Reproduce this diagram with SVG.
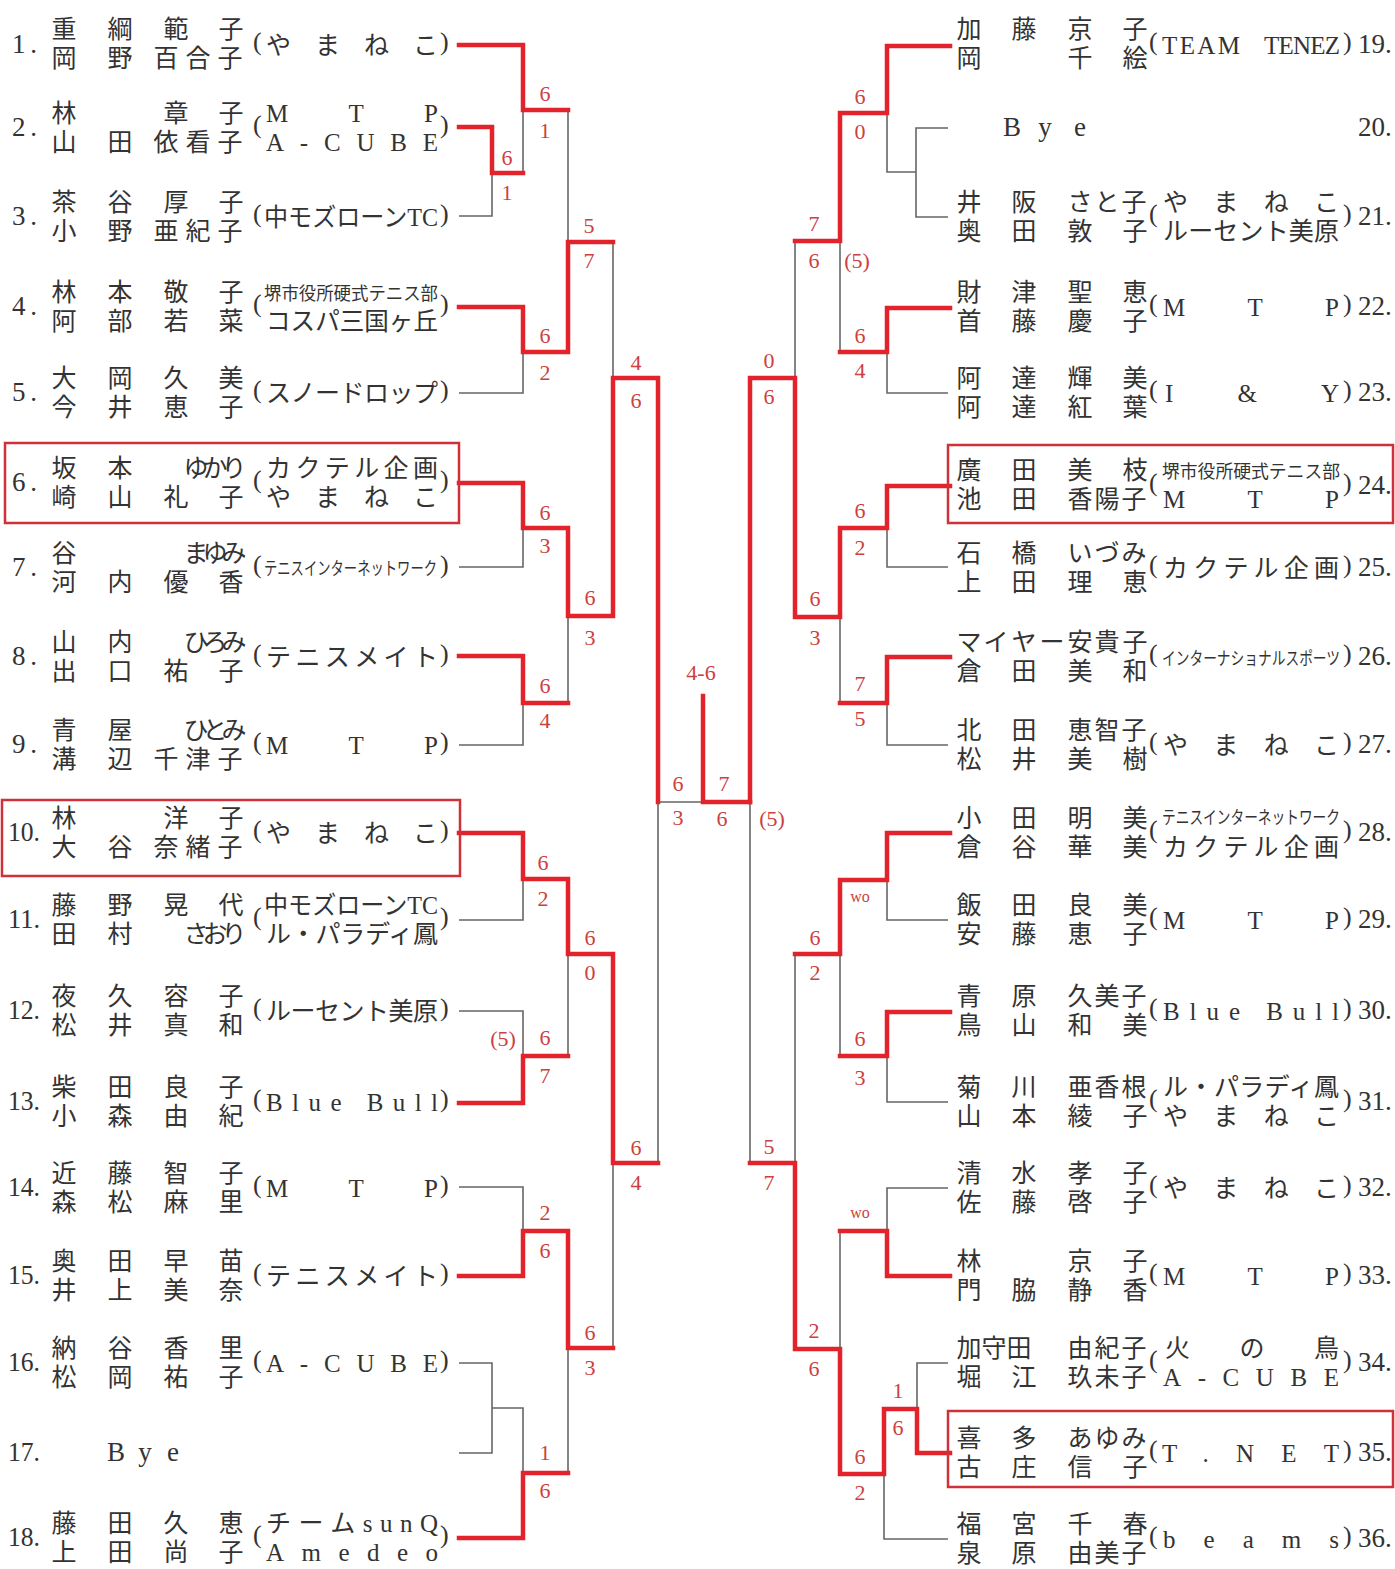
<svg xmlns="http://www.w3.org/2000/svg" width="1395" height="1569" viewBox="0 0 1395 1569">
<style>
.r{stroke:#e2232b;stroke-width:4.5;fill:none;stroke-linecap:square;stroke-linejoin:miter}
.g{stroke:#666;stroke-width:1.6;fill:none}
.box{fill:none;stroke:#d0303a;stroke-width:2.5}
.nm{font-family:"Noto Sans CJK JP",sans-serif;font-size:25px;fill:#333;text-anchor:middle}
.num{font-family:"Liberation Serif",serif;font-size:27px;fill:#333}
.tm{font-family:"Liberation Serif","Noto Sans CJK JP",serif;font-size:25px;fill:#333}
.ts{font-family:"Noto Sans CJK JP",sans-serif;font-size:18px;fill:#333}
.pa{font-family:"Liberation Serif",serif;font-size:26px;fill:#333}
.bye{font-family:"Liberation Serif",serif;font-size:27px;fill:#333;text-anchor:middle}
.sc{font-family:"Liberation Serif",serif;font-size:22px;fill:#cc4040;text-anchor:middle}
.wo{font-family:"Liberation Serif",serif;font-size:16px;fill:#cc4040;text-anchor:middle}
</style>
<rect width="1395" height="1569" fill="#fff"/>
<g id="connectors">
<path class="g" d="M459 216H492V173M523 110V173M568 110V242M459 393H523V352M613 242V378M459 567H523V528M568 616V703M459 745H523V703M658 802H703M658 802V1163M459 920H523V879M568 954V1056M459 1011H523V1056M459 1187H523V1231M613 1163V1348M459 1363H492V1453H459M492 1408H523V1473M568 1348V1473"/>
<path class="g" d="M887 113V172H916M948 128H916V217H948M840 241V352M948 393H887V352M795 241V378M948 567H887V528M840 617V703M948 745H887V703M750 802V1163M795 954V1163M948 920H887V880M840 954V1056M948 1102H887V1056M948 1188H887V1231M840 1231V1349M948 1363H917V1409M884 1474V1539H948"/>
<path class="r" d="M459 45H523V110H568M459 127H492V173H523M459 307H523V352H568V242H613M459 483H523V528H568V616H613V378H658V802M459 656H523V703H568M459 833H523V879H568V954H613V1163H658M459 1103H523V1056H568M459 1276H523V1231H568V1348H613M459 1538H523V1473H568"/>
<path class="r" d="M703 696V802H750"/>
<path class="r" d="M950 46H887V113H840V241H795M950 308H887V352H840M950 486H887V528H840V617H795V378H750V802M950 657H887V703H840M950 833H887V880H840V954H795M950 1012H887V1056H840M950 1276H887V1231H840M950 1453H917V1409H884V1474H840V1349H795V1163H750"/>
</g>
<g id="scores">
<text class="sc" x="545" y="101">6</text><text class="sc" x="545" y="138">1</text>
<text class="sc" x="507" y="165">6</text><text class="sc" x="507" y="200">1</text>
<text class="sc" x="545" y="343">6</text><text class="sc" x="545" y="380">2</text>
<text class="sc" x="589" y="233">5</text><text class="sc" x="589" y="268">7</text>
<text class="sc" x="636" y="370">4</text><text class="sc" x="636" y="408">6</text>
<text class="sc" x="545" y="520">6</text><text class="sc" x="545" y="553">3</text>
<text class="sc" x="545" y="693">6</text><text class="sc" x="545" y="728">4</text>
<text class="sc" x="590" y="605">6</text><text class="sc" x="590" y="645">3</text>
<text class="sc" x="678" y="791">6</text><text class="sc" x="678" y="825">3</text>
<text class="sc" x="543" y="870">6</text><text class="sc" x="543" y="906">2</text>
<text class="sc" x="503" y="1046">(5)</text><text class="sc" x="545" y="1045">6</text><text class="sc" x="545" y="1083">7</text>
<text class="sc" x="590" y="945">6</text><text class="sc" x="590" y="980">0</text>
<text class="sc" x="636" y="1155">6</text><text class="sc" x="636" y="1190">4</text>
<text class="sc" x="545" y="1220">2</text><text class="sc" x="545" y="1258">6</text>
<text class="sc" x="545" y="1460">1</text><text class="sc" x="545" y="1498">6</text>
<text class="sc" x="590" y="1340">6</text><text class="sc" x="590" y="1375">3</text>
<text class="sc" x="701" y="680">4-6</text>
<text class="sc" x="724" y="791">7</text><text class="sc" x="722" y="826">6</text><text class="sc" x="772" y="826">(5)</text>
<text class="sc" x="769" y="368">0</text><text class="sc" x="769" y="404">6</text>
<text class="sc" x="814" y="231">7</text><text class="sc" x="814" y="268">6</text><text class="sc" x="857" y="268">(5)</text>
<text class="sc" x="860" y="104">6</text><text class="sc" x="860" y="139">0</text>
<text class="sc" x="860" y="343">6</text><text class="sc" x="860" y="378">4</text>
<text class="sc" x="815" y="606">6</text><text class="sc" x="815" y="645">3</text>
<text class="sc" x="860" y="518">6</text><text class="sc" x="860" y="555">2</text>
<text class="sc" x="860" y="691">7</text><text class="sc" x="860" y="726">5</text>
<text class="sc" x="769" y="1154">5</text><text class="sc" x="769" y="1190">7</text>
<text class="sc" x="815" y="945">6</text><text class="sc" x="815" y="980">2</text>
<text class="wo" x="860" y="902">wo</text>
<text class="sc" x="860" y="1046">6</text><text class="sc" x="860" y="1085">3</text>
<text class="sc" x="814" y="1338">2</text><text class="sc" x="814" y="1376">6</text>
<text class="wo" x="860" y="1218">wo</text>
<text class="sc" x="860" y="1464">6</text><text class="sc" x="860" y="1500">2</text>
<text class="sc" x="898" y="1398">1</text><text class="sc" x="898" y="1435">6</text>
</g>
<g id="boxes">
<rect class="box" x="5" y="443" width="454" height="80"/>
<rect class="box" x="2" y="800" width="458" height="76"/>
<rect class="box" x="948" y="445" width="445" height="78"/>
<rect class="box" x="948" y="1411" width="445" height="76"/>
</g>
<g id="p1"><text class="num" x="12" y="53" textLength="25" lengthAdjust="spacing">1.</text>
<text class="nm" y="38" x="64 120 176 231">重綱範子</text><text class="nm" y="67" x="64 120 166 198 230">岡野百合子</text>
<text class="pa" x="253" y="50">(</text><text class="tm" x="266" y="54" textLength="172" lengthAdjust="spacing">やまねこ</text><text class="pa" x="440" y="50">)</text></g>
<g id="p2"><text class="num" x="12" y="136" textLength="25" lengthAdjust="spacing">2.</text>
<text class="nm" y="122" x="64 176 231">林章子</text><text class="nm" y="151" x="64 120 166 198 230">山田依看子</text>
<text class="pa" x="253" y="133">(</text><text class="tm" x="266" y="122" textLength="172" lengthAdjust="spacing">MTP</text><text class="tm" x="266" y="151" textLength="172" lengthAdjust="spacing">A-CUBE</text><text class="pa" x="440" y="133">)</text></g>
<g id="p3"><text class="num" x="12" y="225" textLength="25" lengthAdjust="spacing">3.</text>
<text class="nm" y="211" x="64 120 176 231">茶谷厚子</text><text class="nm" y="240" x="64 120 166 198 230">小野亜紀子</text>
<text class="pa" x="253" y="222">(</text><text class="tm" x="264" y="226" textLength="174" lengthAdjust="spacingAndGlyphs">中モズローンTC</text><text class="pa" x="440" y="222">)</text></g>
<g id="p4"><text class="num" x="12" y="315" textLength="25" lengthAdjust="spacing">4.</text>
<text class="nm" y="301" x="64 120 176 231">林本敬子</text><text class="nm" y="330" x="64 120 176 231">阿部若菜</text>
<text class="pa" x="253" y="312">(</text><text class="ts" x="264" y="300" textLength="174" lengthAdjust="spacingAndGlyphs">堺市役所硬式テニス部</text><text class="tm" x="266" y="330" textLength="172" lengthAdjust="spacingAndGlyphs">コスパ三国ヶ丘</text><text class="pa" x="440" y="312">)</text></g>
<g id="p5"><text class="num" x="12" y="401" textLength="25" lengthAdjust="spacing">5.</text>
<text class="nm" y="387" x="64 120 176 231">大岡久美</text><text class="nm" y="416" x="64 120 176 231">今井恵子</text>
<text class="pa" x="253" y="398">(</text><text class="tm" x="266" y="402" textLength="172" lengthAdjust="spacing">スノードロップ</text><text class="pa" x="440" y="398">)</text></g>
<g id="p6"><text class="num" x="12" y="491" textLength="25" lengthAdjust="spacing">6.</text>
<text class="nm" y="477" x="64 120 196 215 234">坂本ゆかり</text><text class="nm" y="506" x="64 120 176 231">崎山礼子</text>
<text class="pa" x="253" y="488">(</text><text class="tm" x="266" y="477" textLength="172" lengthAdjust="spacing">カクテル企画</text><text class="tm" x="266" y="506" textLength="172" lengthAdjust="spacing">やまねこ</text><text class="pa" x="440" y="488">)</text></g>
<g id="p7"><text class="num" x="12" y="576" textLength="25" lengthAdjust="spacing">7.</text>
<text class="nm" y="562" x="64 196 215 234">谷まゆみ</text><text class="nm" y="591" x="64 120 176 231">河内優香</text>
<text class="pa" x="253" y="573">(</text><text class="ts" x="264" y="575" textLength="173" lengthAdjust="spacingAndGlyphs">テニスインターネットワーク</text><text class="pa" x="440" y="573">)</text></g>
<g id="p8"><text class="num" x="12" y="665" textLength="25" lengthAdjust="spacing">8.</text>
<text class="nm" y="651" x="64 120 196 215 234">山内ひろみ</text><text class="nm" y="680" x="64 120 176 231">出口祐子</text>
<text class="pa" x="253" y="662">(</text><text class="tm" x="266" y="666" textLength="172" lengthAdjust="spacing">テニスメイト</text><text class="pa" x="440" y="662">)</text></g>
<g id="p9"><text class="num" x="12" y="753" textLength="25" lengthAdjust="spacing">9.</text>
<text class="nm" y="739" x="64 120 196 215 234">青屋ひとみ</text><text class="nm" y="768" x="64 120 166 198 230">溝辺千津子</text>
<text class="pa" x="253" y="750">(</text><text class="tm" x="266" y="754" textLength="172" lengthAdjust="spacing">MTP</text><text class="pa" x="440" y="750">)</text></g>
<g id="p10"><text class="num" x="8" y="841" textLength="32" lengthAdjust="spacingAndGlyphs">10.</text>
<text class="nm" y="827" x="64 176 231">林洋子</text><text class="nm" y="856" x="64 120 166 198 230">大谷奈緒子</text>
<text class="pa" x="253" y="838">(</text><text class="tm" x="266" y="842" textLength="172" lengthAdjust="spacing">やまねこ</text><text class="pa" x="440" y="838">)</text></g>
<g id="p11"><text class="num" x="8" y="928" textLength="32" lengthAdjust="spacingAndGlyphs">11.</text>
<text class="nm" y="914" x="64 120 176 231">藤野晃代</text><text class="nm" y="943" x="64 120 196 215 234">田村さおり</text>
<text class="pa" x="253" y="925">(</text><text class="tm" x="264" y="914" textLength="174" lengthAdjust="spacingAndGlyphs">中モズローンTC</text><text class="tm" x="266" y="943" textLength="172" lengthAdjust="spacing">ル・パラディ鳳</text><text class="pa" x="440" y="925">)</text></g>
<g id="p12"><text class="num" x="8" y="1019" textLength="32" lengthAdjust="spacingAndGlyphs">12.</text>
<text class="nm" y="1005" x="64 120 176 231">夜久容子</text><text class="nm" y="1034" x="64 120 176 231">松井真和</text>
<text class="pa" x="253" y="1016">(</text><text class="tm" x="266" y="1020" textLength="172" lengthAdjust="spacing">ルーセント美原</text><text class="pa" x="440" y="1016">)</text></g>
<g id="p13"><text class="num" x="8" y="1110" textLength="32" lengthAdjust="spacingAndGlyphs">13.</text>
<text class="nm" y="1096" x="64 120 176 231">柴田良子</text><text class="nm" y="1125" x="64 120 176 231">小森由紀</text>
<text class="pa" x="253" y="1107">(</text><text class="tm" x="266" y="1111" textLength="172" lengthAdjust="spacing">Blue Bull</text><text class="pa" x="440" y="1107">)</text></g>
<g id="p14"><text class="num" x="8" y="1196" textLength="32" lengthAdjust="spacingAndGlyphs">14.</text>
<text class="nm" y="1182" x="64 120 176 231">近藤智子</text><text class="nm" y="1211" x="64 120 176 231">森松麻里</text>
<text class="pa" x="253" y="1193">(</text><text class="tm" x="266" y="1197" textLength="172" lengthAdjust="spacing">MTP</text><text class="pa" x="440" y="1193">)</text></g>
<g id="p15"><text class="num" x="8" y="1284" textLength="32" lengthAdjust="spacingAndGlyphs">15.</text>
<text class="nm" y="1270" x="64 120 176 231">奥田早苗</text><text class="nm" y="1299" x="64 120 176 231">井上美奈</text>
<text class="pa" x="253" y="1281">(</text><text class="tm" x="266" y="1285" textLength="172" lengthAdjust="spacing">テニスメイト</text><text class="pa" x="440" y="1281">)</text></g>
<g id="p16"><text class="num" x="8" y="1371" textLength="32" lengthAdjust="spacingAndGlyphs">16.</text>
<text class="nm" y="1357" x="64 120 176 231">納谷香里</text><text class="nm" y="1386" x="64 120 176 231">松岡祐子</text>
<text class="pa" x="253" y="1368">(</text><text class="tm" x="266" y="1372" textLength="172" lengthAdjust="spacing">A-CUBE</text><text class="pa" x="440" y="1368">)</text></g>
<g id="p17"><text class="num" x="8" y="1461" textLength="32" lengthAdjust="spacingAndGlyphs">17.</text>
<text class="bye" y="1461" x="116 145 173">Bye</text></g>
<g id="p18"><text class="num" x="8" y="1546" textLength="32" lengthAdjust="spacingAndGlyphs">18.</text>
<text class="nm" y="1532" x="64 120 176 231">藤田久恵</text><text class="nm" y="1561" x="64 120 176 231">上田尚子</text>
<text class="pa" x="253" y="1543">(</text><text class="tm" x="266" y="1532" textLength="172" lengthAdjust="spacing">チームsunQ</text><text class="tm" x="266" y="1561" textLength="172" lengthAdjust="spacing">Amedeo</text><text class="pa" x="440" y="1543">)</text></g>
<g id="p19"><text class="num" x="1358" y="53">19.</text>
<text class="nm" y="38" x="969 1024 1080 1135">加藤京子</text><text class="nm" y="67" x="969 1080 1135">岡千絵</text>
<text class="pa" x="1149" y="50">(</text><text class="tm" x="1162" y="54" textLength="78" lengthAdjust="spacing">TEAM</text><text class="tm" x="1264" y="54" textLength="76" lengthAdjust="spacing">TENEZ</text><text class="pa" x="1343" y="50">)</text></g>
<g id="p20"><text class="num" x="1358" y="136">20.</text>
<text class="bye" y="136" x="1012 1045 1080">Bye</text></g>
<g id="p21"><text class="num" x="1358" y="225">21.</text>
<text class="nm" y="211" x="969 1024 1080 1107 1134">井阪さと子</text><text class="nm" y="240" x="969 1024 1080 1135">奥田敦子</text>
<text class="pa" x="1149" y="222">(</text><text class="tm" x="1163" y="211" textLength="176" lengthAdjust="spacing">やまねこ</text><text class="tm" x="1163" y="240" textLength="176" lengthAdjust="spacing">ルーセント美原</text><text class="pa" x="1343" y="222">)</text></g>
<g id="p22"><text class="num" x="1358" y="315">22.</text>
<text class="nm" y="301" x="969 1024 1080 1135">財津聖恵</text><text class="nm" y="330" x="969 1024 1080 1135">首藤慶子</text>
<text class="pa" x="1149" y="312">(</text><text class="tm" x="1163" y="316" textLength="176" lengthAdjust="spacing">MTP</text><text class="pa" x="1343" y="312">)</text></g>
<g id="p23"><text class="num" x="1358" y="401">23.</text>
<text class="nm" y="387" x="969 1024 1080 1135">阿達輝美</text><text class="nm" y="416" x="969 1024 1080 1135">阿達紅葉</text>
<text class="pa" x="1149" y="398">(</text><text class="tm" x="1165" y="402" textLength="174" lengthAdjust="spacing">I&amp;Y</text><text class="pa" x="1343" y="398">)</text></g>
<g id="p24"><text class="num" x="1358" y="494">24.</text>
<text class="nm" y="479" x="969 1024 1080 1135">廣田美枝</text><text class="nm" y="508" x="969 1024 1080 1107 1134">池田香陽子</text>
<text class="pa" x="1149" y="491">(</text><text class="ts" x="1162" y="478" textLength="178" lengthAdjust="spacingAndGlyphs">堺市役所硬式テニス部</text><text class="tm" x="1163" y="508" textLength="176" lengthAdjust="spacing">MTP</text><text class="pa" x="1343" y="491">)</text></g>
<g id="p25"><text class="num" x="1358" y="576">25.</text>
<text class="nm" y="562" x="969 1024 1080 1107 1134">石橋いづみ</text><text class="nm" y="591" x="969 1024 1080 1135">上田理恵</text>
<text class="pa" x="1149" y="573">(</text><text class="tm" x="1163" y="577" textLength="176" lengthAdjust="spacing">カクテル企画</text><text class="pa" x="1343" y="573">)</text></g>
<g id="p26"><text class="num" x="1358" y="665">26.</text>
<text class="nm" y="651" x="969 996 1024 1052 1080 1107 1135">マイヤー安貴子</text><text class="nm" y="680" x="969 1024 1080 1135">倉田美和</text>
<text class="pa" x="1149" y="662">(</text><text class="ts" x="1162" y="665" textLength="178" lengthAdjust="spacingAndGlyphs">インターナショナルスポーツ</text><text class="pa" x="1343" y="662">)</text></g>
<g id="p27"><text class="num" x="1358" y="753">27.</text>
<text class="nm" y="739" x="969 1024 1080 1107 1134">北田恵智子</text><text class="nm" y="768" x="969 1024 1080 1135">松井美樹</text>
<text class="pa" x="1149" y="750">(</text><text class="tm" x="1163" y="754" textLength="176" lengthAdjust="spacing">やまねこ</text><text class="pa" x="1343" y="750">)</text></g>
<g id="p28"><text class="num" x="1358" y="841">28.</text>
<text class="nm" y="827" x="969 1024 1080 1135">小田明美</text><text class="nm" y="856" x="969 1024 1080 1135">倉谷華美</text>
<text class="pa" x="1149" y="838">(</text><text class="ts" x="1162" y="824" textLength="178" lengthAdjust="spacingAndGlyphs">テニスインターネットワーク</text><text class="tm" x="1163" y="856" textLength="176" lengthAdjust="spacing">カクテル企画</text><text class="pa" x="1343" y="838">)</text></g>
<g id="p29"><text class="num" x="1358" y="928">29.</text>
<text class="nm" y="914" x="969 1024 1080 1135">飯田良美</text><text class="nm" y="943" x="969 1024 1080 1135">安藤恵子</text>
<text class="pa" x="1149" y="925">(</text><text class="tm" x="1163" y="929" textLength="176" lengthAdjust="spacing">MTP</text><text class="pa" x="1343" y="925">)</text></g>
<g id="p30"><text class="num" x="1358" y="1019">30.</text>
<text class="nm" y="1005" x="969 1024 1080 1107 1134">青原久美子</text><text class="nm" y="1034" x="969 1024 1080 1135">鳥山和美</text>
<text class="pa" x="1149" y="1016">(</text><text class="tm" x="1163" y="1020" textLength="176" lengthAdjust="spacing">Blue Bull</text><text class="pa" x="1343" y="1016">)</text></g>
<g id="p31"><text class="num" x="1358" y="1110">31.</text>
<text class="nm" y="1096" x="969 1024 1080 1107 1134">菊川亜香根</text><text class="nm" y="1125" x="969 1024 1080 1135">山本綾子</text>
<text class="pa" x="1149" y="1107">(</text><text class="tm" x="1163" y="1096" textLength="176" lengthAdjust="spacing">ル・パラディ鳳</text><text class="tm" x="1163" y="1125" textLength="176" lengthAdjust="spacing">やまねこ</text><text class="pa" x="1343" y="1107">)</text></g>
<g id="p32"><text class="num" x="1358" y="1196">32.</text>
<text class="nm" y="1182" x="969 1024 1080 1135">清水孝子</text><text class="nm" y="1211" x="969 1024 1080 1135">佐藤啓子</text>
<text class="pa" x="1149" y="1193">(</text><text class="tm" x="1163" y="1197" textLength="176" lengthAdjust="spacing">やまねこ</text><text class="pa" x="1343" y="1193">)</text></g>
<g id="p33"><text class="num" x="1358" y="1284">33.</text>
<text class="nm" y="1270" x="969 1080 1135">林京子</text><text class="nm" y="1299" x="969 1024 1080 1135">門脇静香</text>
<text class="pa" x="1149" y="1281">(</text><text class="tm" x="1163" y="1285" textLength="176" lengthAdjust="spacing">MTP</text><text class="pa" x="1343" y="1281">)</text></g>
<g id="p34"><text class="num" x="1358" y="1371">34.</text>
<text class="nm" y="1357" x="969 994 1019 1080 1107 1134">加守田由紀子</text><text class="nm" y="1386" x="969 1024 1080 1107 1134">堀江玖未子</text>
<text class="pa" x="1149" y="1368">(</text><text class="tm" x="1165" y="1357" textLength="174" lengthAdjust="spacing">火の鳥</text><text class="tm" x="1163" y="1386" textLength="176" lengthAdjust="spacing">A-CUBE</text><text class="pa" x="1343" y="1368">)</text></g>
<g id="p35"><text class="num" x="1358" y="1461">35.</text>
<text class="nm" y="1447" x="969 1024 1080 1107 1134">喜多あゆみ</text><text class="nm" y="1476" x="969 1024 1080 1135">古庄信子</text>
<text class="pa" x="1149" y="1458">(</text><text class="tm" x="1162" y="1462" textLength="177" lengthAdjust="spacing">T.NET</text><text class="pa" x="1343" y="1458">)</text></g>
<g id="p36"><text class="num" x="1358" y="1547">36.</text>
<text class="nm" y="1533" x="969 1024 1080 1135">福宮千春</text><text class="nm" y="1562" x="969 1024 1080 1107 1134">泉原由美子</text>
<text class="pa" x="1149" y="1544">(</text><text class="tm" x="1163" y="1548" textLength="176" lengthAdjust="spacing">beams</text><text class="pa" x="1343" y="1544">)</text></g>
</svg>
